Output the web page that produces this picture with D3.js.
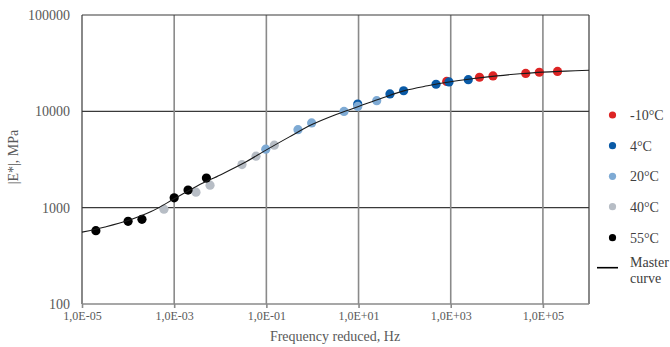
<!DOCTYPE html>
<html>
<head>
<meta charset="utf-8">
<script src="https://cdn.jsdelivr.net/npm/d3@7"></script>
<style>
  html, body { margin: 0; padding: 0; background: #fff; }
  svg { display: block; }
  text { font-family: "Liberation Serif", "Times New Roman", serif; }
</style>
</head>
<body>
<div id="chart"></div>
<script>
// ---------- DATA ----------
const xTickValues = [1e-5, 1e-3, 1e-1, 1e1, 1e3, 1e5];
const xTickLabels = ["1,0E-05", "1,0E-03", "1,0E-01", "1,0E+01", "1,0E+03", "1,0E+05"];
const yTickValues = [100, 1000, 10000, 100000];
const yTickLabels = ["100", "1000", "10000", "100000"];

const seriesNames = ["-10°C", "4°C", "20°C", "40°C", "55°C"];
const seriesColors = ["#dd2424", "#0a5aa6", "#7eaad4", "#b7bdc5", "#000000"];

const freqM10 = [818, 4210, 8260, 42400, 83500, 207500];
const modM10  = [20420, 22580, 23290, 24730, 25450, 25940];

const freq4 = [9.6, 48, 95, 480, 918, 2405];
const mod4  = [11880, 15150, 16360, 19100, 20180, 21320];

const freq20 = [0.097, 0.485, 0.96, 4.84, 9.6, 24.8];
const mod20  = [4045, 6457, 7580, 9980, 11240, 12910];

const freq40 = [6.0e-4, 2.97e-3, 6.0e-3, 0.0296, 0.0596, 0.1486];
const mod40  = [965, 1448, 1711, 2800, 3420, 4449];

const freq55 = [2.0e-5, 1.0e-4, 2.0e-4, 1.0e-3, 2.0e-3, 5.0e-3];
const mod55  = [577, 721, 757, 1264, 1523, 2028];

const curveFreq = [1e-5, 3.16e-5, 1e-4, 3.16e-4, 1e-3, 3.16e-3, 1e-2, 3.16e-2, 1e-1, 3.16e-1,
                   1, 3.16, 10, 31.6, 100, 316, 1000, 3160, 1e4, 3.16e4, 1e5, 3.16e5, 1e6];
const curveMod  = [557, 631, 735, 910, 1235, 1679, 2188, 2884, 3981, 5433,
                   7328, 9226, 11220, 13680, 16410, 18410, 20280, 21880, 23330, 24550, 25530, 26120, 26670];

const xTitle = "Frequency reduced, Hz";
const yTitle = "|E*|, MPa";
const curveLabel = ["Master", "curve"];

// ---------- LAYOUT ----------
const W = 670, H = 347;
const plot = { left: 82, right: 589, top: 15, bottom: 304 };

const svg = d3.select("#chart").append("svg").attr("width", W).attr("height", H);

const x = d3.scaleLog().domain([1e-5, 1e6]).range([plot.left, plot.right]);
const y = d3.scaleLog().domain([100, 100000]).range([plot.bottom, plot.top]);

// horizontal gridlines
svg.append("g").selectAll("line").data(yTickValues.slice(1, -1)).join("line")
  .attr("x1", plot.left).attr("x2", plot.right)
  .attr("y1", d => y(d)).attr("y2", d => y(d))
  .attr("stroke", "#3a3a3a").attr("stroke-width", 1.2);

// vertical gridlines
svg.append("g").selectAll("line").data(xTickValues.slice(1)).join("line")
  .attr("x1", d => x(d)).attr("x2", d => x(d))
  .attr("y1", plot.top).attr("y2", plot.bottom)
  .attr("stroke", "#8a8a8a").attr("stroke-width", 1.6);

// frame
svg.append("line").attr("x1", plot.left).attr("x2", plot.right).attr("y1", plot.top).attr("y2", plot.top)
  .attr("stroke", "#3a3a3a").attr("stroke-width", 1.2);
svg.append("line").attr("x1", plot.right).attr("x2", plot.right).attr("y1", plot.top).attr("y2", plot.bottom)
  .attr("stroke", "#3a3a3a").attr("stroke-width", 1.2);
svg.append("line").attr("x1", plot.left).attr("x2", plot.left).attr("y1", plot.top).attr("y2", plot.bottom)
  .attr("stroke", "#3a3a3a").attr("stroke-width", 1.2);

// x axis
const xAxis = d3.axisBottom(x).tickValues(xTickValues)
  .tickFormat((d, i) => xTickLabels[i]).tickSize(4).tickSizeOuter(0);
const gx = svg.append("g").attr("transform", `translate(0,${plot.bottom})`).call(xAxis);
gx.select(".domain").attr("stroke", "#8a8a8a").attr("stroke-width", 1.6)
  .attr("d", `M${plot.left},0H${plot.right}`);
gx.selectAll(".tick line").attr("stroke", "#8a8a8a").attr("stroke-width", 1.6);
gx.selectAll(".tick text").attr("fill", "#595959").attr("font-size", 12)
  .attr("font-family", "Liberation Serif, serif").attr("dy", "0.71em").attr("y", 7);

// y axis
const yAxis = d3.axisLeft(y).tickValues(yTickValues)
  .tickFormat((d, i) => yTickLabels[i]).tickSize(0).tickPadding(12);
const gy = svg.append("g").attr("transform", `translate(${plot.left},0)`).call(yAxis);
gy.select(".domain").remove();
gy.selectAll(".tick text").attr("fill", "#595959").attr("font-size", 14)
  .attr("font-family", "Liberation Serif, serif");

// titles
svg.append("text").attr("x", 335).attr("y", 341).attr("text-anchor", "middle")
  .attr("font-size", 14).attr("fill", "#595959").text(xTitle);
svg.append("text").attr("transform", "translate(18,157) rotate(-90)").attr("text-anchor", "middle")
  .attr("font-size", 14).attr("fill", "#595959").text(yTitle);

// data points
const seriesData = [
  d3.zip(freqM10, modM10),
  d3.zip(freq4, mod4),
  d3.zip(freq20, mod20),
  d3.zip(freq40, mod40),
  d3.zip(freq55, mod55)
];
const drawOrder = [0, 1, 2, 3, 4];
drawOrder.forEach(si => {
  svg.append("g").selectAll("circle").data(seriesData[si]).join("circle")
    .attr("cx", d => x(d[0])).attr("cy", d => y(d[1])).attr("r", 4.6)
    .attr("fill", seriesColors[si]);
});

// master curve
const line = d3.line().x(d => x(d[0])).y(d => y(d[1])).curve(d3.curveCatmullRom.alpha(0.5));
svg.append("path").datum(d3.zip(curveFreq, curveMod)).attr("d", line)
  .attr("fill", "none").attr("stroke", "#1a1a1a").attr("stroke-width", 1.1);

// legend
const legY = [115, 145.7, 176.3, 206.7, 237.7];
const leg = svg.append("g");
seriesNames.forEach((name, i) => {
  leg.append("circle").attr("cx", 612.5).attr("cy", legY[i]).attr("r", 3.6).attr("fill", seriesColors[i]);
  leg.append("text").attr("x", 630).attr("y", legY[i]).attr("dy", "0.35em")
    .attr("font-size", 14).attr("fill", "#404040").text(name);
});
leg.append("line").attr("x1", 597).attr("x2", 618).attr("y1", 267.7).attr("y2", 267.7)
  .attr("stroke", "#000").attr("stroke-width", 1.6);
curveLabel.forEach((t, i) => {
  leg.append("text").attr("x", 630).attr("y", 261.7 + i * 16).attr("dy", "0.35em")
    .attr("font-size", 14).attr("fill", "#404040").text(t);
});
</script>
</body>
</html>
